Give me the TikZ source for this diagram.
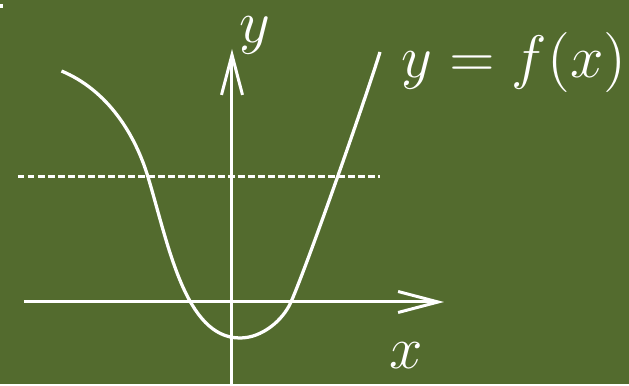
\documentclass[tikz,border=0pt]{standalone}
\usepackage{amsmath}
\usepackage{tikz}
\usetikzlibrary{arrows.meta, positioning}
\definecolor{boardgreen}{RGB}{83,107,46}
\tikzset{
  axisline/.style={white, line width=0.6pt, -{Straight Barb[length=8pt,width=4.2pt,line width=0.6pt]}},
  graphline/.style={white, line width=0.65pt},
  levelline/.style={white, line width=0.6pt, dash pattern=on 1.3pt off 0.7pt},
  chalklabel/.style={text=white, font=\large, inner sep=0pt},
}

\begin{document}
\begin{tikzpicture}[x=0.2pt, y=-0.2pt]

    % Board background
    \fill[boardgreen] (0,0) rectangle (629,384);
    % small chalk mark in the corner
    \fill[white] (0,4) rectangle (3,8);

    % End points of the axes and the level line
    \coordinate (xstart) at (24,302);
    \coordinate (xend) at (444,302);
    \coordinate (ystart) at (232,384);
    \coordinate (yend) at (232,49);
    \coordinate (lstart) at (18,177);
    \coordinate (lend) at (380,177);

    % Dashed level line
    \draw[levelline] (lstart) -- (lend);

    % Axes
    \draw[axisline] (xstart) -- (xend);
    \draw[axisline] (ystart) -- (yend);

    % Graph of f: left arm, bottom, right arm
    \draw[graphline] (61.5,71)
        .. controls (107.6,90.3) and (135,134) .. (148,177)
        .. controls (168.3,244) and (185,338) .. (240,338)
        .. controls (262,338) and (283,320.3) .. (291,302)
        .. controls (309,260.7) and (366.8,95) .. (380,52)
        coordinate (fend);

    % Axis labels and curve label
    \node[chalklabel] (ylab) at (255,35) {$y$};
    \node[chalklabel] (xlab) at (406,356) {$x$};
    \node[chalklabel, anchor=west] (flab) at (401,63) {$y=f(x)$};

\end{tikzpicture}
\end{document}
